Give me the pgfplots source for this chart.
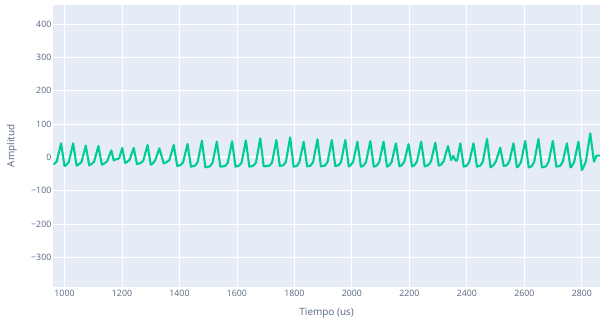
\documentclass[border=0pt]{standalone}
\usepackage{pgfplots}
\pgfplotsset{compat=1.18}
\usepackage{fontspec}
\setmainfont{Open Sans}
\definecolor{plotbg}{HTML}{E5ECF6}
\definecolor{fontc}{HTML}{2A3F5F}
\definecolor{linec}{HTML}{00CC96}
\begin{document}
\begin{tikzpicture}
\begin{axis}[
  scale only axis,
  width=546.7bp, height=281.7bp,
  xmin=961, xmax=2863, ymin=-388, ymax=457,
  axis background/.style={fill=plotbg},
  axis line style={draw=none},
  tick style={draw=none},
  grid=major,
  major grid style={white, line width=0.9bp},
  xtick={1000,1200,...,2800},
  xticklabels={1000,1200,1400,1600,1800,2000,2200,2400,2600,2800},
  ytick={-300,-200,...,400},
  yticklabels={−300,−200,−100,0,100,200,300,400},
  extra y ticks={0},
  extra y tick labels={},
  extra y tick style={major grid style={white, line width=2bp}},
  ticklabel style={font=\fontsize{8.8}{10}\selectfont, text=fontc!80},
  yticklabel style={xshift=1.5bp},
  /pgf/number format/assume math mode=true,
  xlabel={Tiempo (us)},
  ylabel={Amplitud},
  label style={font=\fontsize{10}{12}\selectfont, text=fontc!80},
  xlabel style={at={(axis description cs:0.5,-0.0944)}, anchor=center},
  ylabel style={at={(axis description cs:-0.0761,0.5)}, anchor=center, rotate=0},
]
\addplot[linec, line width=2.1bp, line join=round] coordinates {
(961,-22)(973,-12)
(988,42)(1000,-26)(1006,-23)(1015,-14)
(1030,42)(1042,-25)(1050,-21)(1059,-14)
(1074,35)(1086,-24)(1094,-20)(1103,-13)
(1118,34)(1130,-22)(1139,-18)(1148,-12)
(1163,21)(1171,-9)(1182,-5)(1190,-3)
(1201,28)(1211,-17)(1217,-14)(1226,-8)
(1241,28)(1252,-20)(1265,-17)(1274,-10)
(1289,37)(1300,-22)(1306,-19)(1315,-10)
(1330,27)(1345,-18)(1356,-14)(1365,-8)
(1380,37)(1392,-26)(1404,-23)(1413,-14)
(1428,40)(1440,-28)(1454,-25)(1463,-15)
(1478,50)(1490,-30)(1506,-27)(1515,-16)
(1530,47)(1542,-28)(1559,-26)(1568,-16)
(1583,48)(1595,-28)(1607,-25)(1616,-16)
(1631,51)(1643,-28)(1657,-25)(1666,-16)
(1681,57)(1693,-27)(1713,-25)(1722,-16)
(1737,52)(1749,-26)(1761,-24)(1770,-14)
(1785,60)(1797,-28)(1808,-26)(1817,-15)
(1832,47)(1844,-27)(1856,-25)(1865,-14)
(1880,54)(1892,-27)(1906,-25)(1915,-14)
(1930,52)(1942,-26)(1953,-24)(1962,-14)
(1977,52)(1989,-27)(1995,-24)(2004,-14)
(2019,47)(2031,-28)(2040,-25)(2049,-14)
(2064,49)(2076,-28)(2086,-25)(2095,-14)
(2110,47)(2122,-28)(2129,-25)(2138,-14)
(2153,42)(2165,-27)(2173,-24)(2182,-13)
(2197,40)(2209,-27)(2217,-24)(2226,-13)
(2241,47)(2253,-27)(2266,-23)(2275,-12)
(2290,44)(2302,-25)(2310,-22)(2319,-12)
(2334,34)(2345,-8)(2353,4)(2361,-10)(2366,-9)
(2377,42)(2389,-28)(2399,-25)(2408,-14)
(2423,42)(2435,-28)(2446,-25)(2455,-14)
(2470,55)(2482,-30)(2492,-24)(2501,-12)
(2516,29)(2528,-26)(2538,-24)(2547,-14)
(2562,42)(2574,-30)(2579,-27)(2588,-14)
(2603,49)(2615,-30)(2625,-27)(2634,-14)
(2649,55)(2661,-30)(2675,-27)(2684,-14)
(2699,49)(2711,-28)(2724,-26)(2733,-14)
(2748,42)(2760,-30)(2764,-28)(2773,-14)
(2788,47)(2800,-38)(2805,-30)(2814,-12)
(2829,72)(2842,-13)(2851,5)(2863,5)
};
\end{axis}
\pgfresetboundingbox
\path (-53.3bp,-37.3bp) rectangle (546.7bp,286.7bp);
\end{tikzpicture}
\end{document}
